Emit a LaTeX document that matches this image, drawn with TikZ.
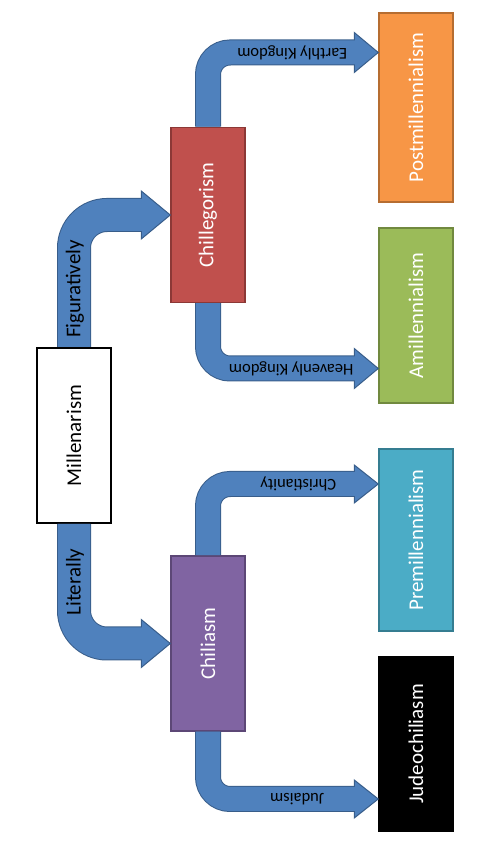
\documentclass[tikz,border=0pt]{standalone}
\usepackage{fontspec}
\setmainfont{Carlito}
\usepackage{xcolor}
\usepackage{graphicx}
\usepackage{tikz}
\usetikzlibrary{calc}
\definecolor{myblue}{HTML}{4F81BD}
\definecolor{myblueedge}{HTML}{385D8A}
\definecolor{myred}{HTML}{C0504D}
\definecolor{myrededge}{HTML}{8C3836}
\definecolor{mypurple}{HTML}{8064A2}
\definecolor{mypurpleedge}{HTML}{5C4776}
\definecolor{myorange}{HTML}{F79646}
\definecolor{myorangeedge}{HTML}{B66D31}
\definecolor{mygreen}{HTML}{9BBB59}
\definecolor{mygreenedge}{HTML}{71893F}
\definecolor{myaqua}{HTML}{4BACC6}
\definecolor{myaquaedge}{HTML}{357D91}
\newcommand\myarrowlw{1pt}
\pgfkeys{tikz/mybox/.style={draw,line width=1.5pt,minimum width=74pt,minimum height=175pt,inner sep=0pt,text=white,font=\fontsize{21}{25}\selectfont}}
\pgfkeys{tikz/mylabel/.style={inner sep=0pt,rotate=90,font=\fontsize{21}{25}\selectfont}}
\pgfkeys{tikz/mysmalllabel/.style={inner sep=0pt,rotate=180,font=\fontsize{16.5}{20}\selectfont}}
\pgfkeys{tikz/myarrowedge/.style={draw=myblueedge}}
\pgfkeys{tikz/myarrowbody/.style={draw=myblue}}
\pgfkeys{tikz/myarrowhead/.style={fill=myblue,draw=myblueedge,line width=\myarrowlw,line join=miter}}
\newcommand*\mytext[1]{\rotatebox{90}{#1}}
\newcommand*\mybentarrow[6][]{
    \draw[myarrowedge,#1,line width=#4pt+2*\myarrowlw] (#2) |- ($(#3)+(-#5,0)$);
    \filldraw[myarrowhead] ($(#3)+(-#5,#6)$) -- (#3) -- ($(#3)+(-#5,-#6)$) -- cycle;
    \draw[myarrowbody,#1,line width=#4pt] (#2) |- ($(#3)+(-#5+1.5,0)$);
}

\begin{document}
\begin{tikzpicture}[x=1pt,y=1pt]
    \useasboundingbox (0,0) rectangle (491,847);
    \node[mybox,fill=white,draw=black,line width=2pt,text=black] (mill) at (74,411.5) {\mytext{Millenarism}};
    \node[mybox,fill=myred,draw=myrededge] (chile) at (208,632) {\mytext{Chillegorism}};
    \node[mybox,fill=mypurple,draw=mypurpleedge] (chil) at (208,203.5) {\mytext{Chiliasm}};
    \node[mybox,fill=myorange,draw=myorangeedge,minimum height=189pt] (post) at (416,739.5) {\mytext{Postmillennialism}};
    \node[mybox,fill=mygreen,draw=mygreenedge] (amil) at (416,531.5) {\mytext{Amillennialism}};
    \node[mybox,fill=myaqua,draw=myaquaedge,minimum height=182pt] (prem) at (416,307) {\mytext{Premillennialism}};
    \node[mybox,fill=black,draw=black] (jude) at (416,103) {\mytext{Judeochiliasm}};
    \coordinate (posttip) at ($(post.west)+(0,55)$);
    \coordinate (amiltip) at ($(amil.west)+(0,-53)$);
    \coordinate (premtip) at ($(prem.west)+(0,56)$);
    \coordinate (judetip) at ($(jude.west)+(0,-55)$);
    \mybentarrow[rounded corners=33pt]{mill.north}{chile.west}{32}{29}{24}
    \mybentarrow[rounded corners=33pt]{mill.south}{chil.west}{32}{29}{24}
    \mybentarrow[rounded corners=22pt]{chile.north}{posttip}{24}{24}{20}
    \mybentarrow[rounded corners=22pt]{chile.south}{amiltip}{24}{24}{20}
    \mybentarrow[rounded corners=22pt]{chil.north}{premtip}{24}{24}{19}
    \mybentarrow[rounded corners=22pt]{chil.south}{judetip}{24}{24}{19}
    \node[mylabel] (figlab) at ($(mill.north)+(1,58)$) {Figuratively};
    \node[mylabel] (litlab) at ($(mill.south)+(1,-58)$) {Literally};
    \node[mysmalllabel] (earthlab) at ($(posttip)+(-86,0)$) {Earthly Kingdom};
    \node[mysmalllabel] (heavlab) at ($(amiltip)+(-87,0)$) {Heavenly Kingdom};
    \node[mysmalllabel] (christlab) at ($(premtip)+(-80,0)$) {Christianity};
    \node[mysmalllabel] (judlab) at ($(judetip)+(-81,0)$) {Judaism};
\end{tikzpicture}
\end{document}
